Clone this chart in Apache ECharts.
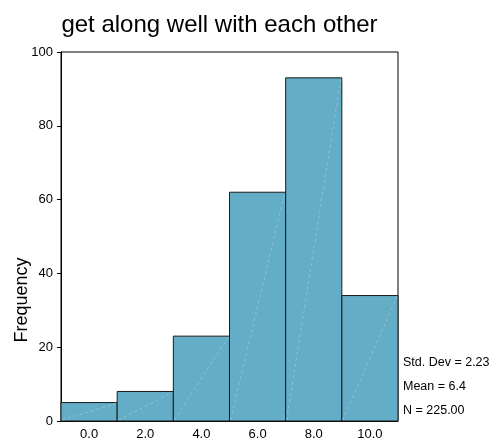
<!DOCTYPE html>
<html>
<head>
<meta charset="utf-8">
<script src="https://cdn.jsdelivr.net/npm/echarts@6/dist/echarts.min.js"></script>
<style>html,body{margin:0;padding:0;background:#fff;}#c{width:498px;height:441px;}</style>
</head>
<body>
<div id="c"></div>
<script>
const categories = ['0.0', '2.0', '4.0', '6.0', '8.0', '10.0'];
const frequencies = [5, 8, 23, 62, 93, 34];
const yMin = 0, yMax = 100, yInterval = 20;
const titleText = 'get along well with each other';
const yAxisName = 'Frequency';
const statsLines = ['Std. Dev = 2.23', 'Mean = 6.4', 'N = 225.00'];

const FONT = '"Liberation Sans", Arial, sans-serif';
const chart = echarts.init(document.getElementById('c'), null, {renderer: 'canvas'});

function renderBar(params, api) {
  const idx = api.value(0);
  const v = api.value(1);
  const top = api.coord([idx, v]);
  const base = api.coord([idx, 0]);
  const w = api.size([1, 0])[0];
  const x0 = base[0] - w / 2;
  return {
    type: 'group',
    children: [
      {type: 'rect', shape: {x: x0, y: top[1], width: w, height: base[1] - top[1]},
       style: {fill: '#63adc6', stroke: '#1b1b1b', lineWidth: 1}},
      {type: 'line', shape: {x1: x0 + 1, y1: base[1] - 1, x2: x0 + w - 1, y2: top[1] + 1},
       style: {stroke: 'rgba(255,255,255,0.32)', lineWidth: 0.8, lineDash: [3, 3]}}
    ]
  };
}

const statsGraphics = statsLines.map((t, i) => ({
  type: 'text', left: 403, top: 356 + i * 24,
  style: {text: t, font: '12.5px ' + FONT, fill: '#000'}
}));

chart.setOption({
  animation: false,
  backgroundColor: '#fff',
  grid: {left: 61, right: 100, top: 52, bottom: 19, show: true, borderColor: '#000', borderWidth: 1, backgroundColor: 'transparent'},
  xAxis: {
    type: 'category', data: categories, boundaryGap: true,
    axisLine: {lineStyle: {color: '#000', width: 1}},
    axisTick: {alignWithLabel: true, length: 4, lineStyle: {color: '#000'}},
    axisLabel: {color: '#000', fontSize: 13, fontFamily: FONT, margin: 7}
  },
  yAxis: {
    type: 'value', min: yMin, max: yMax, interval: yInterval,
    axisLine: {show: true, lineStyle: {color: '#000', width: 1}},
    axisTick: {show: true, length: 4, lineStyle: {color: '#000'}},
    splitLine: {show: false},
    axisLabel: {color: '#000', fontSize: 13, fontFamily: FONT, margin: 8}
  },
  series: [{
    type: 'custom', renderItem: renderBar,
    encode: {x: 0, y: 1},
    data: frequencies.map((v, i) => [i, v])
  }],
  graphic: [
    {type: 'text', x: 219.5, y: 25,
     style: {text: titleText, font: '24px ' + FONT, fill: '#000', align: 'center', verticalAlign: 'middle'}},
    {type: 'text', x: 22, y: 300, rotation: Math.PI / 2,
     style: {text: yAxisName, font: '18px ' + FONT, fill: '#000', align: 'center', verticalAlign: 'middle'}}
  ].concat(statsGraphics)
});
</script>
</body>
</html>
